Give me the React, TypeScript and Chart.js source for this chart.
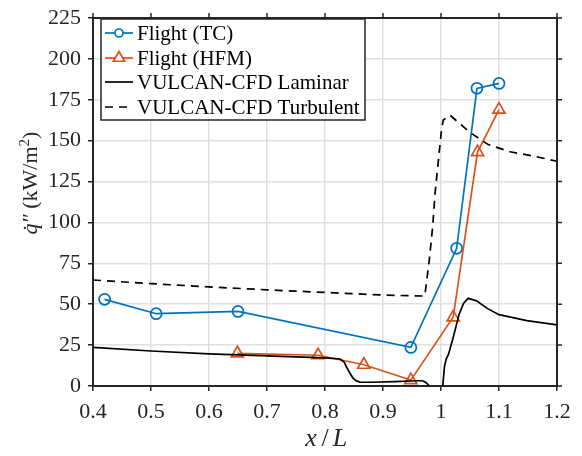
import React, { useEffect, useRef } from 'react';
import { Chart, registerables } from 'chart.js';

Chart.register(...registerables);

// ---- data ----
const tcX = [0.42, 0.509, 0.65, 0.948, 1.027, 1.062, 1.10];
const tcY = [53, 44.2, 45.6, 23.6, 84.2, 182, 185];

const hfmX = [0.649, 0.788, 0.867, 0.948, 1.021, 1.063, 1.10];
const hfmY = [20, 18.8, 13, 3.6, 42, 143, 169];

const lamX = [0.40, 0.50, 0.60, 0.70, 0.80, 0.826, 0.833, 0.838, 0.843, 0.848, 0.853, 0.86, 0.88, 0.92, 0.96, 0.968, 0.974, 0.98, 0.99, 1.003, 1.006, 1.009, 1.013, 1.021, 1.031, 1.039, 1.047, 1.062, 1.079, 1.10, 1.148, 1.20];
const lamY = [23.6, 21.4, 19.7, 18.4, 17.2, 16.5, 14.6, 11, 7.8, 5, 3.4, 2.4, 2.3, 2.7, 3.2, 3.2, 2.2, 0, null, 0, 12, 16.5, 19.5, 29.6, 43.6, 50.6, 53.6, 52, 47.6, 43.6, 40, 37.4];

const turbX = [0.40, 0.50, 0.60, 0.70, 0.80, 0.90, 0.972, 0.98, 0.9857, 0.9897, 0.9954, 1.0012, 1.004, 1.0155, 1.05, 1.0815, 1.119, 1.159, 1.20];
const turbY = [64.8, 62.6, 60.6, 58.8, 57.2, 55.6, 55.0, 77.6, 97.6, 117.6, 137.6, 157.6, 162.6, 165.6, 155, 147.6, 143.2, 140.6, 137.4];

const seriesLabels = ['Flight (TC)', 'Flight (HFM)', 'VULCAN-CFD Laminar', 'VULCAN-CFD Turbulent'];

const X_MIN = 0.4, X_MAX = 1.2, X_STEP = 0.1;
const Y_MIN = 0, Y_MAX = 225, Y_STEP = 25;

const BLUE = '#0072BD';
const ORANGE = '#D95319';
const AXIS = '#262626';
const GRID = '#e0e0e0';
const SERIF = '"Liberation Serif", "Times New Roman", serif';
const LW = 1.7;

const pts = (xs: number[], ys: (number | null)[]) => xs.map((x, i) => ({ x, y: ys[i] }));

const boxPlugin = {
  id: 'matlabBox',
  afterDraw(chart: any) {
    const { ctx, chartArea: a, scales } = chart;
    ctx.save();
    ctx.strokeStyle = AXIS;
    ctx.lineWidth = 2;
    ctx.beginPath();
    ctx.moveTo(a.left - 1, a.top);
    ctx.lineTo(a.right + 1, a.top);
    ctx.moveTo(a.right, a.top);
    ctx.lineTo(a.right, a.bottom + 1);
    ctx.stroke();
    ctx.lineWidth = 1.5;
    ctx.beginPath();
    scales.x.ticks.forEach((t: any) => {
      const px = scales.x.getPixelForValue(t.value);
      ctx.moveTo(px, a.top);
      ctx.lineTo(px, a.top - 5);
    });
    scales.y.ticks.forEach((t: any) => {
      const py = scales.y.getPixelForValue(t.value);
      ctx.moveTo(a.right, py);
      ctx.lineTo(a.right + 5, py);
    });
    ctx.stroke();

    // axis titles
    ctx.fillStyle = AXIS;
    ctx.textBaseline = 'alphabetic';
    const cx = (a.left + a.right) / 2;
    ctx.font = `italic 26px ${SERIF}`;
    ctx.textAlign = 'center';
    ctx.fillText('x', cx - 14, 446);
    ctx.font = `26px ${SERIF}`;
    ctx.fillText('/', cx, 446);
    ctx.font = `italic 26px ${SERIF}`;
    ctx.fillText('L', cx + 15, 446);

    const fs = 22;
    const parts = [
      { t: 'q\u0307\u2033', f: `italic ${fs}px ${SERIF}`, dy: 0 },
      { t: ' (kW/m', f: `${fs}px ${SERIF}`, dy: 0 },
      { t: '2', f: `${Math.round(fs * 0.68)}px ${SERIF}`, dy: -fs * 0.38 },
      { t: ')', f: `${fs}px ${SERIF}`, dy: 0 },
    ];
    let total = 0;
    const widths = parts.map((p) => {
      ctx.font = p.f;
      const w = ctx.measureText(p.t).width;
      total += w;
      return w;
    });
    ctx.translate(37, 183);
    ctx.rotate(-Math.PI / 2);
    ctx.textAlign = 'left';
    let xx = -total / 2;
    parts.forEach((p, i) => {
      ctx.font = p.f;
      ctx.fillText(p.t, xx, p.dy);
      xx += widths[i];
    });
    ctx.restore();

    // legend
    ctx.save();
    const lx = 101, ly = 19, lw = 264, lh = 101;
    ctx.fillStyle = '#ffffff';
    ctx.fillRect(lx, ly, lw, lh);
    ctx.strokeStyle = AXIS;
    ctx.lineWidth = 1.5;
    ctx.strokeRect(lx, ly, lw, lh);
    const rows = [33, 58, 82, 107];
    chart.data.datasets.forEach((ds: any, i: number) => {
      const y = rows[i];
      ctx.strokeStyle = ds.borderColor;
      ctx.lineWidth = LW;
      ctx.setLineDash(ds.borderDash || []);
      ctx.beginPath();
      ctx.moveTo(105, y);
      ctx.lineTo(133, y);
      ctx.stroke();
      ctx.setLineDash([]);
      if (ds.pointRadius > 0) {
        ctx.beginPath();
        if (ds.pointStyle === 'circle') {
          ctx.arc(119, y, 4, 0, Math.PI * 2);
        } else {
          const r = 6.5;
          ctx.moveTo(119, y - r);
          ctx.lineTo(119 + r * 0.866, y + r * 0.5);
          ctx.lineTo(119 - r * 0.866, y + r * 0.5);
          ctx.closePath();
        }
        ctx.fillStyle = '#ffffff';
        ctx.fill();
        ctx.stroke();
      }
      ctx.fillStyle = '#000000';
      ctx.font = `21px ${SERIF}`;
      ctx.textAlign = 'left';
      ctx.textBaseline = 'middle';
      ctx.fillText(ds.label, 137, y + 1);
    });
    ctx.restore();
  },
};

export default function App() {
  const ref = useRef<HTMLCanvasElement | null>(null);

  useEffect(() => {
    document.body.style.margin = '0';
    const canvas = ref.current;
    if (!canvas) return;
    const tickFont = { family: SERIF, size: 22, lineHeight: 1 };
    const chart = new Chart(canvas, {
      type: 'line',
      data: {
        datasets: [
          {
            label: seriesLabels[0],
            data: pts(tcX, tcY),
            borderColor: BLUE,
            borderWidth: LW,
            pointStyle: 'circle',
            pointRadius: 5.5,
            pointBorderWidth: LW,
            pointBorderColor: BLUE,
            pointBackgroundColor: 'rgba(0,0,0,0)',
            tension: 0,
            order: 4,
          },
          {
            label: seriesLabels[1],
            data: pts(hfmX, hfmY),
            borderColor: ORANGE,
            borderWidth: LW,
            pointStyle: 'triangle',
            pointRadius: 7,
            pointBorderWidth: LW,
            pointBorderColor: ORANGE,
            pointBackgroundColor: 'rgba(0,0,0,0)',
            tension: 0,
            order: 3,
          },
          {
            label: seriesLabels[2],
            data: pts(lamX, lamY),
            borderColor: '#000000',
            borderWidth: LW,
            pointRadius: 0,
            tension: 0,
            spanGaps: false,
            order: 2,
          },
          {
            label: seriesLabels[3],
            data: pts(turbX, turbY),
            borderColor: '#000000',
            borderWidth: LW,
            borderDash: [8, 6],
            pointRadius: 0,
            tension: 0,
            order: 1,
          },
        ],
      },
      options: {
        animation: false,
        responsive: false,
        events: [],
        layout: { padding: { left: 0, right: 25, top: 11, bottom: 0 } },
        plugins: { legend: { display: false }, tooltip: { enabled: false } },
        scales: {
          x: {
            type: 'linear',
            min: X_MIN,
            max: X_MAX,
            ticks: {
              stepSize: X_STEP,
              autoSkip: false,
              maxRotation: 0,
              padding: 10,
              color: AXIS,
              font: tickFont,
              callback: (v: any) => String(Math.round(Number(v) * 10) / 10),
            },
            grid: { color: GRID, lineWidth: 1.5, tickColor: AXIS, tickLength: 5, tickWidth: 1.5 },
            border: { color: AXIS, width: 2 },
            afterFit: (s: any) => { s.height = 70; },
          },
          y: {
            type: 'linear',
            min: Y_MIN,
            max: Y_MAX,
            ticks: { stepSize: Y_STEP, padding: 7, color: AXIS, font: tickFont },
            grid: { color: GRID, lineWidth: 1.5, tickColor: AXIS, tickLength: 5, tickWidth: 1.5 },
            border: { color: AXIS, width: 2 },
            afterFit: (s: any) => { s.width = 93; },
          },
        },
      },
      plugins: [boxPlugin],
    } as any);
    return () => chart.destroy();
  }, []);

  return (
    <div style={{ position: 'fixed', left: 0, top: 0, width: 582, height: 456 }}>
      <canvas ref={ref} width={582} height={456} style={{ display: 'block' }} />
    </div>
  );
}
